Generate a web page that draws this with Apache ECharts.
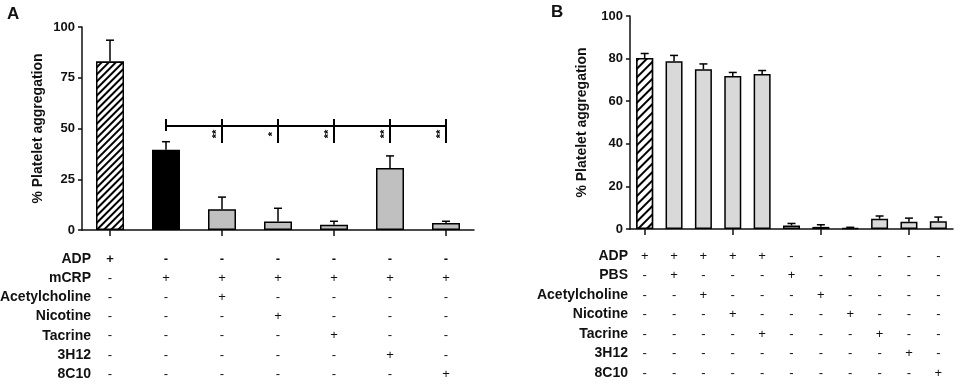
<!DOCTYPE html>
<html><head><meta charset="utf-8">
<script src="https://cdn.jsdelivr.net/npm/echarts@6/dist/echarts.min.js"></script>
<style>html,body{margin:0;padding:0;background:#fff}#c{width:957px;height:384px}</style>
</head><body><div id="c"></div>
<script>
// ---------- Panel A data ----------
const catsA = ['ADP', 'mCRP', 'mCRP+ACh', 'mCRP+Nic', 'mCRP+Tac', 'mCRP+3H12', 'mCRP+8C10'];
const valsA = [83, 39.5, 10.2, 4.2, 2.6, 30.5, 3.4];
const errA  = [10.5, 4, 6, 6.5, 1.7, 6, 0.9];
const ticksA = [0, 25, 50, 75, 100];
const rowNamesA = ['ADP', 'mCRP', 'Acetylcholine', 'Nicotine', 'Tacrine', '3H12', '8C10'];
const rowsA = [
  ['+', '-', '-', '-', '-', '-', '-'],
  ['-', '+', '+', '+', '+', '+', '+'],
  ['-', '-', '+', '-', '-', '-', '-'],
  ['-', '-', '-', '+', '-', '-', '-'],
  ['-', '-', '-', '-', '+', '-', '-'],
  ['-', '-', '-', '-', '-', '+', '-'],
  ['-', '-', '-', '-', '-', '-', '+']
];
const sigLevelA = 51.2;
const sigFromA = 1;
const sigTargetsA = [2, 3, 4, 5, 6];
const sigMarksA = ['**', '*', '**', '**', '**'];

// ---------- Panel B data ----------
const catsB = ['ADP', 'ADP+PBS', 'ADP+ACh', 'ADP+Nic', 'ADP+Tac', 'PBS', 'ACh', 'Nic', 'Tac', '3H12', '8C10'];
const valsB = [80.3, 78.8, 75, 71.8, 72.8, 1.7, 1.0, 0.4, 4.8, 3.4, 3.6];
const errB  = [2.1, 2.7, 2.5, 1.7, 1.6, 0.9, 1.0, 0.4, 1.3, 1.7, 2.0];
const ticksB = [0, 20, 40, 60, 80, 100];
const rowNamesB = ['ADP', 'PBS', 'Acetylcholine', 'Nicotine', 'Tacrine', '3H12', '8C10'];
const rowsB = [
  ['+', '+', '+', '+', '+', '-', '-', '-', '-', '-', '-'],
  ['-', '+', '-', '-', '-', '+', '-', '-', '-', '-', '-'],
  ['-', '-', '+', '-', '-', '-', '+', '-', '-', '-', '-'],
  ['-', '-', '-', '+', '-', '-', '-', '+', '-', '-', '-'],
  ['-', '-', '-', '-', '+', '-', '-', '-', '+', '-', '-'],
  ['-', '-', '-', '-', '-', '-', '-', '-', '-', '+', '-'],
  ['-', '-', '-', '-', '-', '-', '-', '-', '-', '-', '+']
];

// ---------- build ----------
const FONT = "'Liberation Sans', Arial, sans-serif";
const INK = '#111';
const chart = echarts.init(document.getElementById('c'), null, {renderer: 'canvas'});

function hatch(w, gap) {
  return {symbol: 'rect', symbolSize: 1, color: '#000', backgroundColor: '#fff',
          dashArrayX: [1, 0], dashArrayY: [w, gap], rotation: -Math.PI / 4};
}

function mainX(grid, cats) {
  return {type: 'category', gridIndex: grid, data: cats, position: 'bottom',
    axisLine: {lineStyle: {color: INK, width: 1.5}},
    axisTick: {show: true, alignWithLabel: true, length: 6, lineStyle: {color: INK, width: 1.5}},
    axisLabel: {show: false}, splitLine: {show: false}};
}
function rowX(grid, rows, names, r, off0, step, gap, boldRow) {
  const row = rows[r];
  return {type: 'category', gridIndex: grid, data: row, position: 'bottom',
    offset: off0 + step * r,
    axisLine: {show: false}, axisTick: {show: false}, splitLine: {show: false},
    axisLabel: {show: true, interval: 0, margin: 0, verticalAlign: 'middle',
      fontFamily: FONT, fontSize: 13, color: INK,
      fontWeight: boldRow ? 'bold' : 'normal',
      formatter: (v, i) => row[i]},
    name: names[r], nameLocation: 'start', nameGap: gap,
    nameTextStyle: {fontFamily: FONT, fontSize: 14, fontWeight: 'bold', color: INK, verticalAlign: 'middle'}};
}
function yAx(grid, ticks, gap) {
  return {type: 'value', gridIndex: grid, min: ticks[0], max: ticks[ticks.length - 1],
    interval: ticks[1] - ticks[0],
    axisLine: {show: true, lineStyle: {color: INK, width: 1.5}},
    axisTick: {show: true, length: 4, lineStyle: {color: INK, width: 1.5}},
    axisLabel: {fontFamily: FONT, fontSize: 13, fontWeight: 'bold', color: INK, margin: 7},
    splitLine: {show: false},
    name: '% Platelet aggregation', nameLocation: 'middle', nameGap: gap, nameRotate: 90,
    nameTextStyle: {fontFamily: FONT, fontSize: 14, fontWeight: 'bold', color: INK}};
}
function errSeries(xi, yi, vals, errs, capW) {
  return {type: 'custom', xAxisIndex: xi, yAxisIndex: yi, clip: false, z: 5,
    data: vals.map((v, i) => [i, v, errs[i]]),
    renderItem: (p, api) => {
      const i = api.value(0), v = api.value(1), e = api.value(2);
      const a = api.coord([i, v]), b = api.coord([i, v + e]);
      const st = {stroke: '#000', lineWidth: 1.5};
      return {type: 'group', children: [
        {type: 'line', shape: {x1: a[0], y1: a[1], x2: b[0], y2: b[1]}, style: st},
        {type: 'line', shape: {x1: b[0] - capW / 2, y1: b[1], x2: b[0] + capW / 2, y2: b[1]}, style: st}
      ]};
    }};
}

const xAxes = [mainX(0, catsA)];
const xIdxB = 1 + rowsA.length;
for (let r = 0; r < rowsA.length; r++) xAxes.push(rowX(0, rowsA, rowNamesA, r, 29, 19.2, -9, r === 0));
xAxes.push(mainX(1, catsB));
for (let r = 0; r < rowsB.length; r++) xAxes.push(rowX(1, rowsB, rowNamesB, r, 27, 19.5, 2, false));

const barA = valsA.map((v, i) => {
  if (i === 0) return {value: v, itemStyle: {color: '#fff', decal: hatch(1.6, 2.6)}};
  if (i === 1) return {value: v, itemStyle: {color: '#000'}};
  return {value: v, itemStyle: {color: '#c0c0c0'}};
});
const barB = valsB.map((v, i) => i === 0
  ? {value: v, itemStyle: {color: '#fff', decal: hatch(1.8, 4.0)}}
  : {value: v, itemStyle: {color: '#d9d9d9'}});

const sigSeries = {type: 'custom', xAxisIndex: 0, yAxisIndex: 0, clip: false, z: 6,
  data: sigTargetsA.map((t, k) => [t, sigLevelA, k]),
  renderItem: (p, api) => {
    const t = api.value(0), lv = api.value(1), k = api.value(2);
    const pt = api.coord([t, lv]);
    const st = {stroke: '#000', lineWidth: 2};
    const ch = [
      {type: 'line', shape: {x1: pt[0], y1: pt[1] - 7, x2: pt[0], y2: pt[1] + 17}, style: st},
      {type: 'text', x: pt[0] - 5, y: pt[1] + 8, rotation: Math.PI / 2,
       style: {text: sigMarksA[k], fontSize: 11, fontFamily: FONT, fontWeight: 'bold', fill: '#000', align: 'center', verticalAlign: 'middle'}}
    ];
    if (k === 0) {
      const p0 = api.coord([sigFromA, lv]);
      const pe = api.coord([sigTargetsA[sigTargetsA.length - 1], lv]);
      ch.push({type: 'line', shape: {x1: p0[0], y1: p0[1], x2: pe[0], y2: pe[1]}, style: st});
      ch.push({type: 'line', shape: {x1: p0[0], y1: p0[1] - 7, x2: p0[0], y2: p0[1] + 5}, style: st});
    }
    return {type: 'group', children: ch};
  }};

const option = {
  animation: false,
  backgroundColor: '#fff',
  title: [
    {text: 'A', left: 2, top: 1, textStyle: {fontFamily: FONT, fontSize: 17, fontWeight: 'bold', color: INK}},
    {text: 'B', left: 546, top: -1, textStyle: {fontFamily: FONT, fontSize: 17, fontWeight: 'bold', color: INK}}
  ],
  grid: [
    {left: 82, top: 27, width: 392, height: 203, outerBoundsMode: 'none', containLabel: false},
    {left: 630, top: 16, width: 323, height: 213, outerBoundsMode: 'none', containLabel: false}
  ],
  xAxis: xAxes,
  yAxis: [yAx(0, ticksA, 37), yAx(1, ticksB, 41)],
  series: [
    {type: 'bar', xAxisIndex: 0, yAxisIndex: 0, barWidth: 28, data: barA,
     itemStyle: {borderColor: '#000', borderWidth: 1.5}, z: 3},
    errSeries(0, 0, valsA, errA, 8),
    sigSeries,
    {type: 'bar', xAxisIndex: xIdxB, yAxisIndex: 1, barWidth: 17, data: barB,
     itemStyle: {borderColor: '#000', borderWidth: 1.5}, z: 3},
    errSeries(xIdxB, 1, valsB, errB, 8)
  ]
};
chart.setOption(option);
</script></body></html>
